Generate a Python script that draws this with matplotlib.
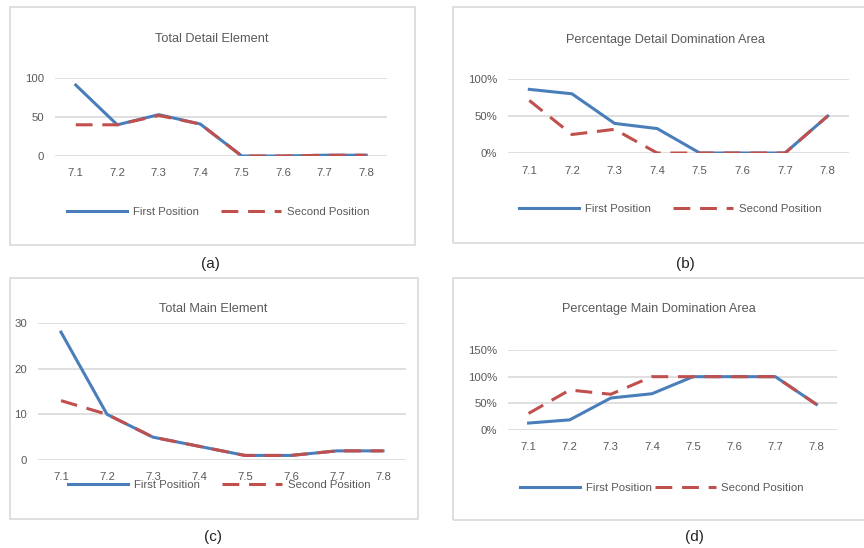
import matplotlib.pyplot as plt
from matplotlib.patches import Rectangle
from matplotlib.ticker import PercentFormatter

plt.rcParams['font.family'] = ['Liberation Sans', 'DejaVu Sans']

# data
categories = ["7.1", "7.2", "7.3", "7.4", "7.5", "7.6", "7.7", "7.8"]

detail_first = [91, 40, 53, 41, 0, 0, 1, 1]
detail_second = [40, 40, 52, 41, 0, 0, 1, 1]

detail_pct_first = [86, 80, 40, 33, 0, 0, 0, 50]
detail_pct_second = [71, 25, 32, 0, 0, 0, 0, 50]

main_first = [28, 10, 5, 3, 1, 1, 2, 2]
main_second = [13, 10, 5, 3, 1, 1, 2, 2]

main_pct_first = [13, 19, 60, 68, 100, 100, 100, 48]
main_pct_second = [31, 75, 67, 100, 100, 100, 100, 48]

W, H = 864, 548
BLUE = "#4a7ebb"
RED = "#c0504d"
GRID = "#d9d9d9"
TXT = "#595959"

fig = plt.figure(figsize=(W / 100, H / 100), dpi=100)
fig.patch.set_facecolor("white")


def fx(x):
    return x / W


def fy(y):
    return 1 - y / H


def panel(box, title, title_xy, ax_box, first, second, yticks, pct,
          leg_xy, colspace, tag, tag_xy):
    # outer chart border
    l, t, r, b = box
    fig.add_artist(Rectangle((fx(l), fy(b)), fx(r - l), (b - t) / H,
                             transform=fig.transFigure, fill=False,
                             edgecolor=GRID, lw=1.2))
    fig.text(fx(title_xy[0]), fy(title_xy[1]), title, ha="center",
             va="center", fontsize=9.2, color=TXT)

    al, at, ar, ab = ax_box
    ax = fig.add_axes([fx(al), fy(ab), fx(ar - al), (ab - at) / H])
    x = range(len(categories))
    ax.plot(x, first, color=BLUE, lw=2.2, label="First Position", zorder=2)
    ln, = ax.plot(x, second, color=RED, lw=2.2, label="Second Position",
                  zorder=3)
    ln.set_dashes((5.5, 3.2))

    ax.set_xlim(-0.5, len(categories) - 0.5)
    ax.set_ylim(yticks[0], yticks[-1])
    ax.set_xticks(list(x))
    ax.set_xticklabels(categories)
    ax.set_yticks(yticks)
    if pct:
        ax.yaxis.set_major_formatter(PercentFormatter(100, decimals=0))
    ax.grid(axis="y", color=GRID, lw=1.2)
    ax.set_axisbelow(True)
    for s in ax.spines.values():
        s.set_visible(False)
    ax.tick_params(length=0, labelsize=8.2, colors=TXT)
    ax.tick_params(axis="x", pad=9)
    ax.tick_params(axis="y", pad=8)
    ax.patch.set_alpha(0)

    ax.legend(loc="center", bbox_to_anchor=(fx(leg_xy[0]), fy(leg_xy[1])),
              bbox_transform=fig.transFigure, ncol=2, frameon=False,
              fontsize=8.2, labelcolor=TXT, handlelength=5.3,
              handletextpad=0.5, columnspacing=colspace)

    fig.text(fx(tag_xy[0]), fy(tag_xy[1]), tag, ha="center", va="center",
             fontsize=11, color="#222222")
    return ax


panel((10, 7, 415, 245), "Total Detail Element", (212, 39),
      (55, 78, 387, 156), detail_first, detail_second, [0, 50, 100], False,
      (218, 212), 1.9, "(a)", (210, 264))

panel((453, 7, 875, 243), "Percentage Detail Domination Area", (665, 40),
      (508, 79, 849, 153), detail_pct_first, detail_pct_second,
      [0, 50, 100], True, (670, 209), 1.9, "(b)", (685, 264))

panel((10, 278, 418, 519), "Total Main Element", (213, 309),
      (38, 323, 406, 460), main_first, main_second, [0, 10, 20, 30], False,
      (219, 485), 1.9, "(c)", (213, 537))

panel((453, 278, 875, 520), "Percentage Main Domination Area", (659, 309),
      (508, 350, 837, 430), main_pct_first, main_pct_second,
      [0, 50, 100, 150], True, (662, 488), 0.3, "(d)", (694, 537))

fig.savefig("out.png", dpi=100, facecolor="white")
